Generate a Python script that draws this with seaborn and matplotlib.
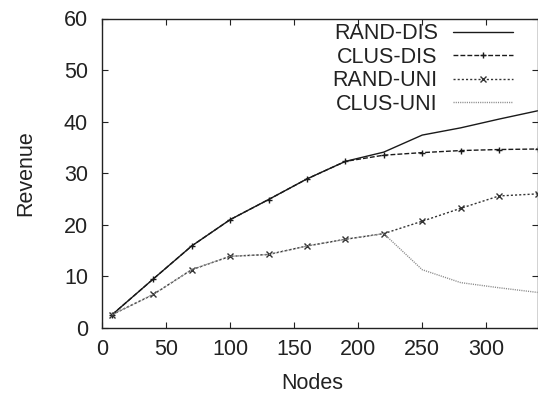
import matplotlib
matplotlib.use("agg")
import matplotlib.pyplot as plt
import seaborn as sns
import pandas as pd

nodes = [8, 40, 70, 100, 130, 160, 190, 220, 250, 280, 310, 340]
randDis = [2.6, 9.5, 15.9, 21.0, 24.9, 28.9, 32.3, 34.1, 37.4, 38.8, 40.5, 42.1]
clusDis = [2.6, 9.5, 15.9, 21.0, 24.9, 28.9, 32.3, 33.5, 34.0, 34.4, 34.6, 34.7]
randUni = [2.6, 6.5, 11.3, 13.9, 14.25, 15.9, 17.2, 18.3, 20.7, 23.2, 25.6, 26.0]
clusUni = [2.6, 6.5, 11.3, 13.9, 14.25, 15.9, 17.2, 18.3, 11.3, 8.8, 7.8, 6.9]

seriesLabels = ['RAND-DIS', 'CLUS-DIS', 'RAND-UNI', 'CLUS-UNI']
seriesValues = [randDis, clusDis, randUni, clusUni]

# gnuplot-like monochrome styles
styles = [
    dict(color='#1a1a1a', dashes=None, marker=None),
    dict(color='#1a1a1a', dashes=(3.5, 1.5), marker='+'),
    dict(color='#333333', dashes=(1.5, 1.5), marker='x'),
    dict(color='#8a8a8a', dashes=(0.8, 0.8), marker=None),
]

sns.set_style('ticks')
plt.rcParams['font.family'] = ['Liberation Sans', 'DejaVu Sans']
textColor = '#222222'
fontSize = 15.5

fig = plt.figure(figsize=(5.38, 3.94), dpi=100)
ax = fig.add_axes([102 / 538, 66 / 394, 435.5 / 538, 309.5 / 394])

for label, values, st in zip(seriesLabels, seriesValues, styles):
    frame = pd.DataFrame({'Nodes': nodes, 'Revenue': values})
    kw = dict(color=st['color'], linewidth=1.0)
    if st['marker'] is not None:
        kw.update(marker=st['marker'], markersize=5, markeredgewidth=1.0,
                  markeredgecolor=st['color'])
    sns.lineplot(data=frame, x='Nodes', y='Revenue', ax=ax, label=label, **kw)
    line = ax.get_lines()[-1]
    if st['dashes'] is not None:
        line.set_dashes(st['dashes'])

ax.set_xlim(0, 340)
ax.set_ylim(0, 60)
ax.set_xticks([0, 50, 100, 150, 200, 250, 300])
ax.set_yticks([0, 10, 20, 30, 40, 50, 60])
ax.tick_params(direction='in', length=4, width=0.8, top=True, right=True,
               labelsize=fontSize, colors='#222222', labelcolor=textColor)
ax.tick_params(axis='x', pad=8)
ax.tick_params(axis='y', pad=10)
for sp in ax.spines.values():
    sp.set_visible(True)
    sp.set_linewidth(1.0)
    sp.set_color('#222222')

ax.set_xlabel('Nodes', fontsize=fontSize, color=textColor)
ax.set_ylabel('Revenue', fontsize=fontSize, color=textColor)
ax.xaxis.label.set_verticalalignment('baseline')
ax.xaxis.set_label_coords(0.482, -0.197)
ax.yaxis.set_label_coords(-0.15, 0.5)

leg = ax.legend(loc='upper right', markerfirst=False, frameon=False, fontsize=fontSize,
                handlelength=2.8, handletextpad=0.7, labelspacing=0.12,
                borderaxespad=0.0, borderpad=0.0,
                bbox_to_anchor=(0.944, 0.985))
for t in leg.get_texts():
    t.set_color(textColor)

fig.savefig('out.png', dpi=100)
plt.close('all')
